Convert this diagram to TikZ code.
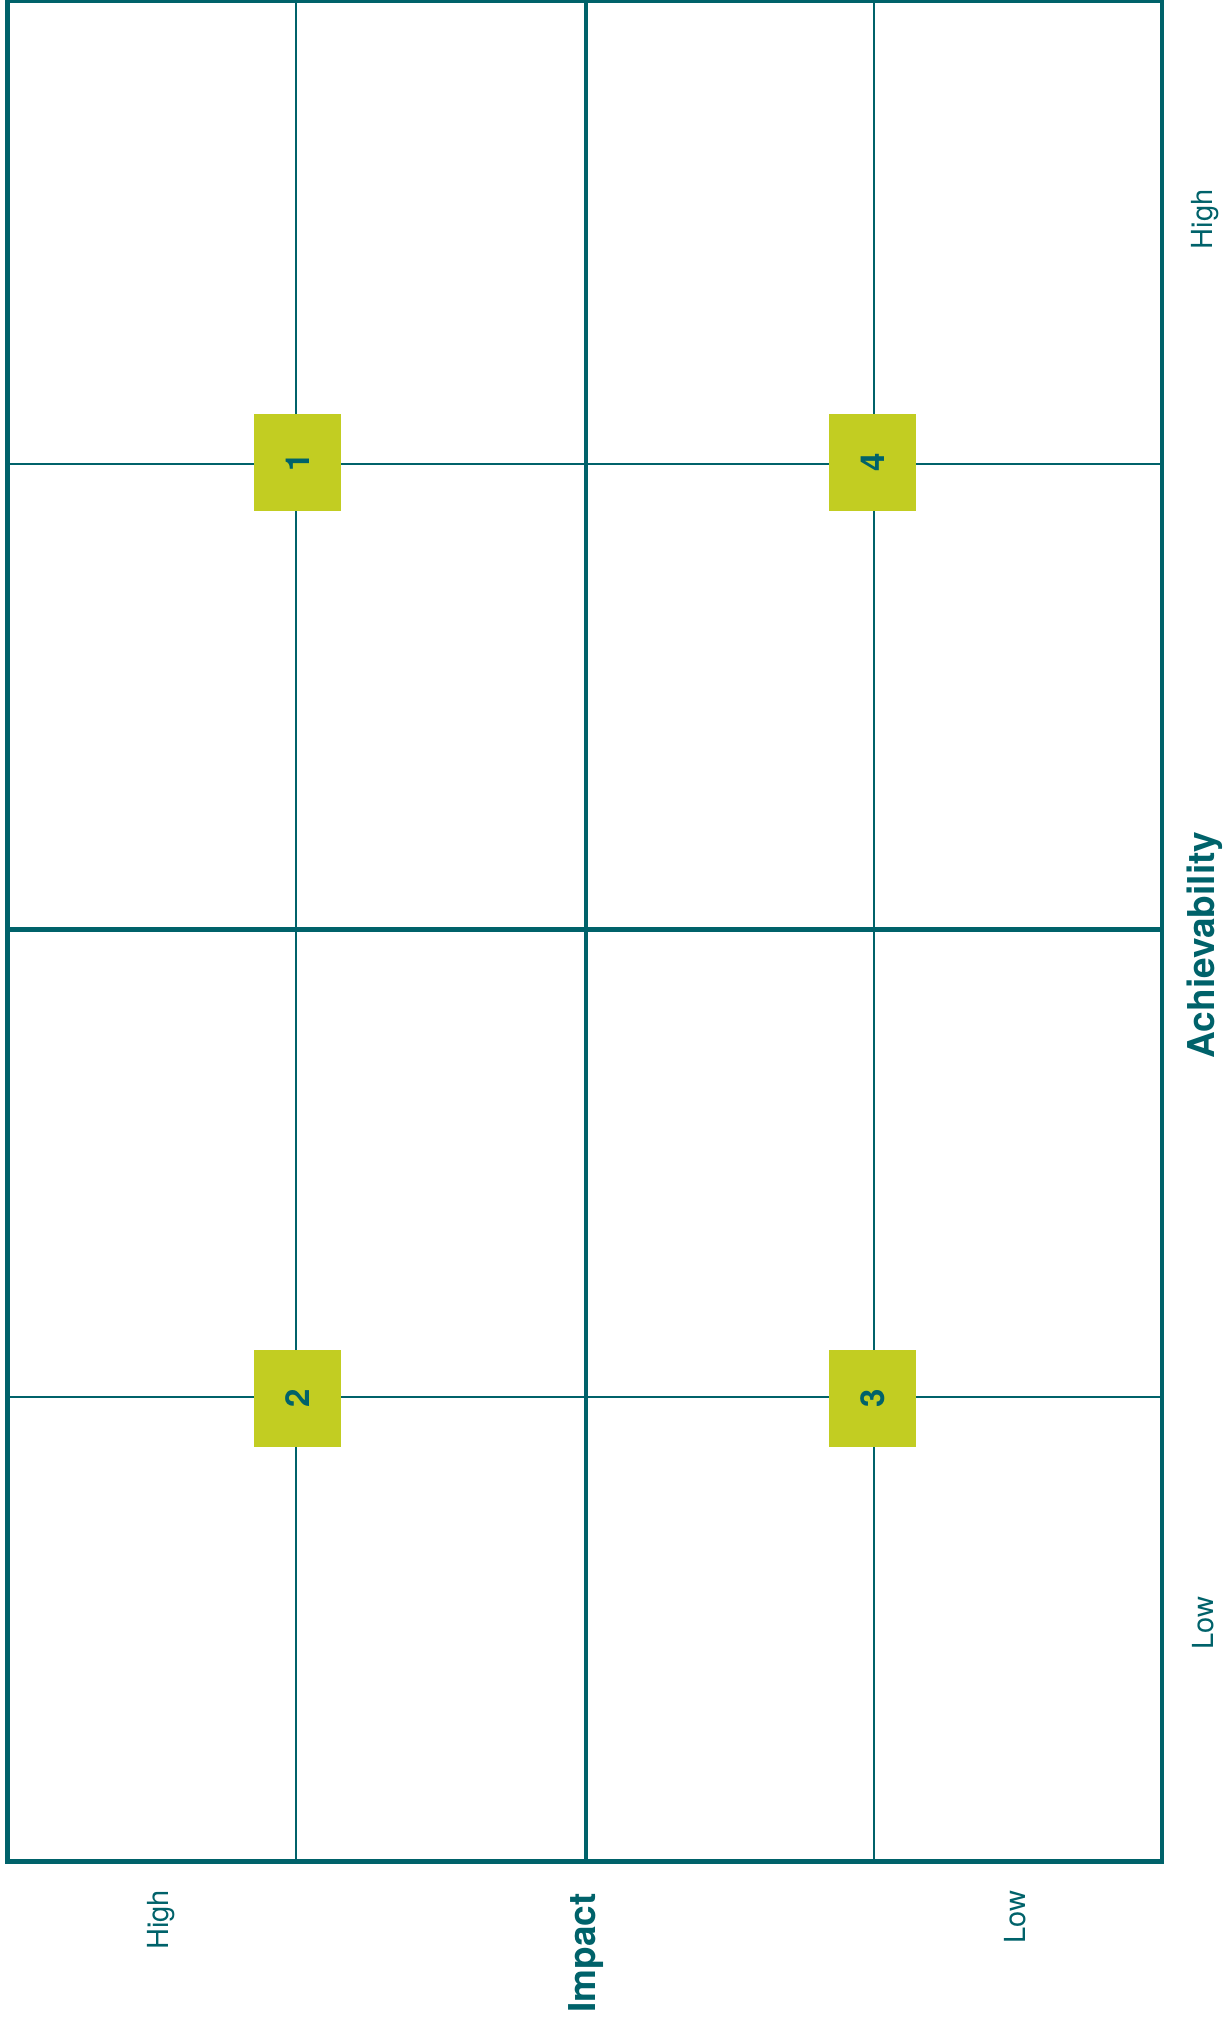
\documentclass[tikz,border=0pt]{standalone}
\usepackage{fontspec}
\setmainfont{TeX Gyre Heros}
\definecolor{teal}{RGB}{0,98,106}
\definecolor{lime}{RGB}{194,205,34}
\begin{document}
\begin{tikzpicture}[x=1pt,y=1pt,
  thin grid/.style={draw=teal,line width=2pt},
  thick grid/.style={draw=teal,line width=4.5pt},
  numbox/.style={fill=lime,minimum width=97pt,minimum height=87pt,inner sep=0pt,
    text=teal,font=\fontsize{33}{33}\selectfont\bfseries,rotate=90},
  ticklabel/.style={text=teal,font=\fontsize{29}{29}\selectfont,rotate=90,inner sep=0pt},
  axislabel/.style={text=teal,font=\fontsize{37}{37}\selectfont\bfseries,rotate=90,inner sep=0pt}]
\useasboundingbox (0,0) rectangle (1224,-2024);
% thin grid lines
\draw[thin grid] (295.7,0) -- (295.7,-1861.7);
\draw[thin grid] (874,0) -- (874,-1861.7);
\draw[thin grid] (7.7,-463.5) -- (1162,-463.5);
\draw[thin grid] (7.7,-1397) -- (1162,-1397);
% thick lines
\draw[thick grid] (586,0) -- (586,-1861.7);
\draw[thick grid] (7.7,-929.6) -- (1162,-929.6);
\draw[thick grid] (7.7,-0.5) rectangle (1162,-1861.7);
% boxes
\node[numbox] (n1) at (297.5,-462.8) {1};
\node[numbox] (n2) at (297.5,-1398.5) {2};
\node[numbox] (n3) at (872.5,-1398.5) {3};
\node[numbox] (n4) at (872.5,-462.8) {4};
% labels
\node[ticklabel] (ahigh) at (1204.6,-219.5) {High};
\node[axislabel] (achv) at (1204.6,-945) {Achievability};
\node[ticklabel] (alow) at (1203.5,-1623) {Low};
\node[ticklabel] (ihigh) at (161,-1920) {High};
\node[axislabel] (imp) at (586,-1953) {Impact};
\node[ticklabel] (ilow) at (1015,-1917) {Low};
\end{tikzpicture}
\end{document}
